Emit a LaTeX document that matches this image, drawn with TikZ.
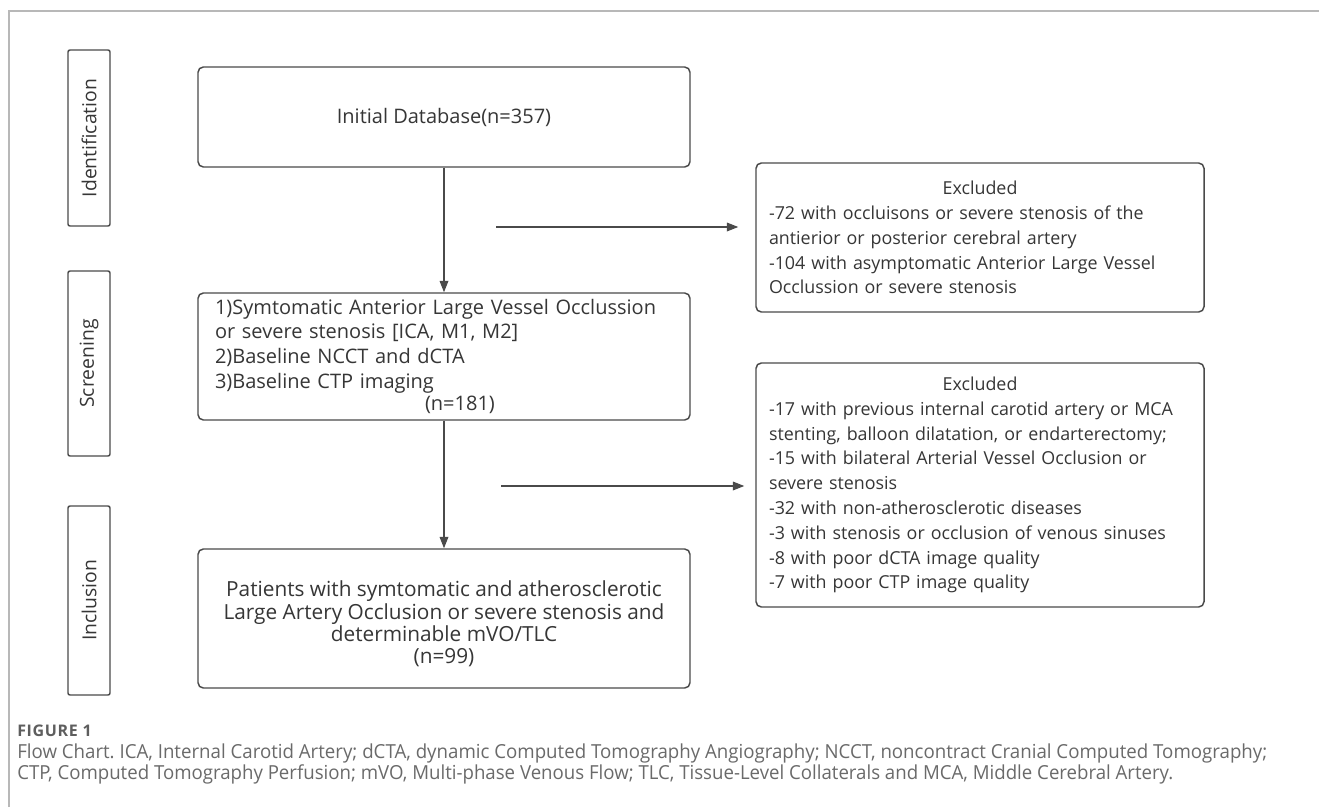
\documentclass[tikz,border=0pt]{standalone}
\usepackage{fontspec}
\usepackage{graphicx}
\setmainfont{Open Sans}
\newfontfamily\capfont{Open Sans}
\newfontfamily\figfont[LetterSpace=4]{Open Sans}
\usetikzlibrary{arrows.meta}
\frenchspacing
\definecolor{ink}{HTML}{363636}
\definecolor{edge}{HTML}{4A4A4A}
\definecolor{framegray}{HTML}{B8B8B8}
\definecolor{capgray}{HTML}{6A6A6A}
\definecolor{figgray}{HTML}{5E5E5E}
\tikzset{
  x=0.75pt, y=-0.75pt,
  box/.style={draw=edge, line width=1.1pt, rounded corners=4pt, inner sep=0pt,
    text=ink, font=\fontsize{15}{18.4}\selectfont},
  exbox/.style={box, font=\fontsize{13.4}{18.6}\selectfont},
  stage/.style={draw=edge, line width=1.1pt, rounded corners=1.5pt, inner sep=0pt,
    text=ink, font=\fontsize{14.5}{16}\selectfont, rotate=90},
  flow/.style={draw=edge, line width=0.9pt, -{Triangle[length=8.5pt,width=6.5pt]}},
  captext/.style={anchor=base west, inner sep=0pt, text=capgray,
    font=\capfont\fontsize{14.5}{17}\selectfont},
}
\begin{document}
\begin{tikzpicture}
\useasboundingbox (0,0) rectangle (1319,807);
\fill[white] (0,0) rectangle (1319,807);
% frame
\coordinate (ftl) at (9,11);
\coordinate (ftr) at (1319,11);
\coordinate (fbl) at (9,807);
\draw[framegray, line width=1.1pt] (fbl) -- (ftl) -- (ftr);

% stage labels
\node[stage, minimum width=132pt, minimum height=31.5pt] (sid) at (89,138) {Identification};
\node[stage, minimum width=138.75pt, minimum height=31.5pt] (sscr) at (89,363.5) {Screening};
\node[stage, minimum width=141.75pt, minimum height=31.5pt] (sinc) at (89,600.5) {Inclusion};

% main boxes
\node[box, minimum width=369pt, minimum height=75pt] (init) at (444,117) {Initial Database(n=357)};
\node[box, minimum width=369pt, minimum height=95.25pt, text width=343.5pt, align=left] (screen) at (444,356.5)
  {1)Symtomatic Anterior Large Vessel Occlussion\\
   or severe stenosis [ICA, M1, M2]\\
   2)Baseline NCCT and dCTA\\
   3)Baseline CTP imaging\\[-1.5pt]
   \hspace*{157.5pt}(n=181)};
\node[box, minimum width=369pt, minimum height=104.25pt] (incl) at (444,618.5) {};
\node[inner sep=0pt, align=center, text=ink, font=\fontsize{15.6}{16.7}\selectfont] (incltext) at (444,624)
  {Patients with symtomatic and atherosclerotic\\
   Large Artery Occlusion or severe stenosis and\\
   determinable mVO/TLC\\
   (n=99)};

% exclusion boxes
\node[exbox, minimum width=336pt, minimum height=111.75pt, text width=316.5pt, align=left] (ex1) at (980,237.5)
  {\makebox[316.5pt]{Excluded}\\
   -72 with occluisons or severe stenosis of the\\
   antierior or posterior cerebral artery\\
   -104 with asymptomatic Anterior Large Vessel\\
   Occlussion or severe stenosis};
\node[exbox, minimum width=336pt, minimum height=183pt, text width=316.5pt, align=left] (ex2) at (980,485)
  {\makebox[316.5pt]{Excluded}\\
   -17 with previous internal carotid artery or MCA\\
   stenting, balloon dilatation, or endarterectomy;\\
   -15 with bilateral Arterial Vessel Occlusion or\\
   severe stenosis\\
   -32 with non-atherosclerotic diseases\\
   -3 with stenosis or occlusion of venous sinuses\\
   -8 with poor dCTA image quality\\
   -7 with poor CTP image quality};

% connectors
\draw[flow] (init.south) -- (screen.north);
\draw[flow] (screen.south) -- (incl.north);
\coordinate (a1s) at (496,227);
\coordinate (a2s) at (501,486);
\draw[flow, shorten >=12.75pt] (a1s) -- (a1s -| ex1.west);
\draw[flow, shorten >=8.25pt] (a2s) -- (a2s -| ex2.west);

% caption
\node[anchor=base west, inner sep=0pt, text=figgray,
  font=\figfont\bfseries\fontsize{12}{14}\selectfont] (figlab) at (17,736) {FIGURE 1};
\node[captext] (cap1) at (17,758) {\resizebox{937.5pt}{\height}{Flow Chart. ICA, Internal Carotid Artery; dCTA, dynamic Computed Tomography Angiography; NCCT, noncontract Cranial Computed Tomography;}};
\node[captext] (cap2) at (17,779) {\resizebox{867pt}{\height}{CTP, Computed Tomography Perfusion; mVO, Multi-phase Venous Flow; TLC, Tissue-Level Collaterals and MCA, Middle Cerebral Artery.}};
\end{tikzpicture}
\end{document}
